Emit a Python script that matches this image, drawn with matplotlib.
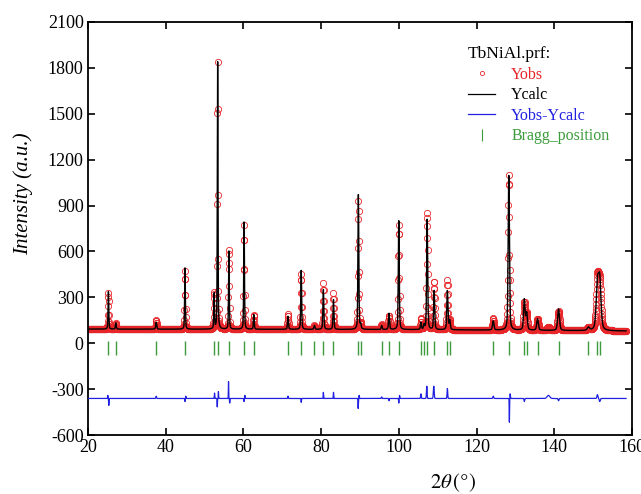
import numpy as np
import matplotlib
matplotlib.use("Agg")
import matplotlib.pyplot as plt
from matplotlib.lines import Line2D

plt.rcParams['font.family'] = ['Liberation Serif', 'DejaVu Serif']
plt.rcParams['mathtext.fontset'] = 'stix'
plt.rcParams['axes.unicode_minus'] = False

# background anchors (2theta, counts)
bg_x = [20, 60, 100, 140, 160]
bg_y = [93, 92, 90, 84, 80]

# refined reflections: position, net calc height, fwhm
peak_pos = [25.3, 27.2, 37.6, 45.0, 52.5, 53.4, 56.3, 60.2, 62.7, 71.5,
            74.9, 78.3, 80.6, 83.2, 89.6, 90.2, 95.6, 97.5, 100.0, 105.7,
            106.5, 107.3, 109.1, 112.5, 113.1, 124.3, 128.3, 132.3, 132.9, 135.7,
            141.1, 148.8, 151.1, 151.7]
peak_h = [245, 40, 45, 400, 230, 1745, 510, 700, 95, 85,
          385, 25, 260, 195, 880, 30, 25, 105, 710, 45,
          30, 720, 255, 255, 60, 60, 1010, 200, 110, 75,
          140, 20, 290, 310]
peak_w = [0.22, 0.25, 0.3, 0.22, 0.22, 0.2, 0.22, 0.22, 0.25, 0.28,
          0.25, 0.3, 0.28, 0.28, 0.26, 0.28, 0.3, 0.3, 0.28, 0.3,
          0.3, 0.3, 0.32, 0.34, 0.34, 0.42, 0.38, 0.45, 0.45, 0.5,
          0.55, 0.7, 0.75, 0.75]

# misfit features in obs-calc: position, amplitude, width
diff_pos = [25.15, 25.4, 37.6, 45.0, 45.2, 52.6, 53.3, 53.6, 56.2, 56.5,
            60.2, 60.4, 71.5, 74.9, 80.6, 83.2, 89.55, 89.8, 95.6, 97.5,
            100.0, 100.2, 105.7, 107.2, 109.0, 112.5, 124.3, 128.45, 128.65, 132.3,
            138.5, 141.1, 151.1, 151.7]
diff_amp = [20, -45, 15, -20, 15, 35, -55, 45, 110, -30,
            -20, 20, 15, -25, 40, 40, -65, 20, 10, -15,
            -30, 20, 30, 80, 80, 65, 15, -155, 30, -20,
            20, -15, 25, -20]
diff_w = [0.12, 0.12, 0.2, 0.12, 0.12, 0.12, 0.1, 0.1, 0.1, 0.12,
          0.12, 0.12, 0.15, 0.12, 0.12, 0.12, 0.12, 0.12, 0.2, 0.15,
          0.12, 0.12, 0.2, 0.2, 0.25, 0.2, 0.25, 0.1, 0.12, 0.2,
          0.8, 0.25, 0.3, 0.3]

bragg_pos = [25.3, 27.2, 37.6, 45.0, 52.5, 53.4, 56.3, 60.2, 62.7, 71.5,
             74.9, 78.3, 80.6, 83.2, 89.6, 90.2, 95.6, 97.5, 100.0, 105.7,
             106.5, 107.3, 109.1, 112.5, 113.1, 124.3, 128.3, 132.3, 132.9, 135.7,
             141.1, 148.8, 151.1, 151.7]

diff_offset = -360
step = 0.05
tt = np.arange(20.0, 158.5, step)


def pv(x, x0, h, w):
    g = np.exp(-4 * np.log(2) * ((x - x0) / w) ** 2)
    l = 1 / (1 + 4 * ((x - x0) / w) ** 2)
    return h * (0.6 * g + 0.4 * l)


ycalc = np.interp(tt, bg_x, bg_y)
for p, h, w in zip(peak_pos, peak_h, peak_w):
    ycalc = ycalc + pv(tt, p, h, w)

diff = np.zeros_like(tt)
for p, a, w in zip(diff_pos, diff_amp, diff_w):
    diff = diff + a * np.exp(-4 * np.log(2) * ((tt - p) / w) ** 2)
yobs = ycalc + diff

fig = plt.figure(figsize=(6.41, 4.94), dpi=100)
ax = fig.add_axes([0.137, 0.119, 0.849, 0.837])

red = '#e8262a'
green = '#3c9c3c'
blue = '#2020e0'

ax.plot(tt, yobs, 'o', mfc='none', mec=red, ms=4.5, mew=0.6, zorder=2)
ax.plot(tt, ycalc, color='black', lw=1.0, zorder=3)
ax.plot(tt, yobs - ycalc + diff_offset, color=blue, lw=0.9, zorder=3)
ax.plot(bragg_pos, [-30] * len(bragg_pos), '|', color=green, ms=10, mew=1.0)

ax.set_xlim(20, 160)
ax.set_ylim(-600, 2100)
ax.set_xticks(range(20, 161, 20))
ax.set_yticks(range(-600, 2101, 300))
ax.tick_params(direction='in', top=True, right=True, length=5, width=1.2,
               labelsize=13, pad=3)
for s in ax.spines.values():
    s.set_linewidth(1.3)

ax.set_ylabel('Intensity (a.u.)', fontsize=15, fontstyle='italic')
ax.yaxis.set_label_coords(-0.1, 0.585)
ax.set_xlabel(r'$2\theta\,(°)$', fontsize=15)
ax.xaxis.set_label_coords(0.672, -0.088)

handles = [
    Line2D([], [], marker='o', ls='none', mfc='none', mec=red, ms=3, mew=0.6),
    Line2D([], [], color='black', lw=0.9),
    Line2D([], [], color=blue, lw=0.9),
    Line2D([], [], marker='|', ls='none', color=green, ms=8, mew=0.8),
]
leg = ax.legend(handles, ['Yobs', 'Ycalc', 'Yobs-Ycalc', 'Bragg_position'],
                title='TbNiAl.prf:', frameon=False, fontsize=11.5,
                title_fontsize=12.5, loc='upper right', alignment='left',
                bbox_to_anchor=(0.985, 0.975), handlelength=1.7, handletextpad=1.0,
                labelspacing=0.28, labelcolor=[red, 'black', blue, green])

fig.savefig('out.png', dpi=100)
